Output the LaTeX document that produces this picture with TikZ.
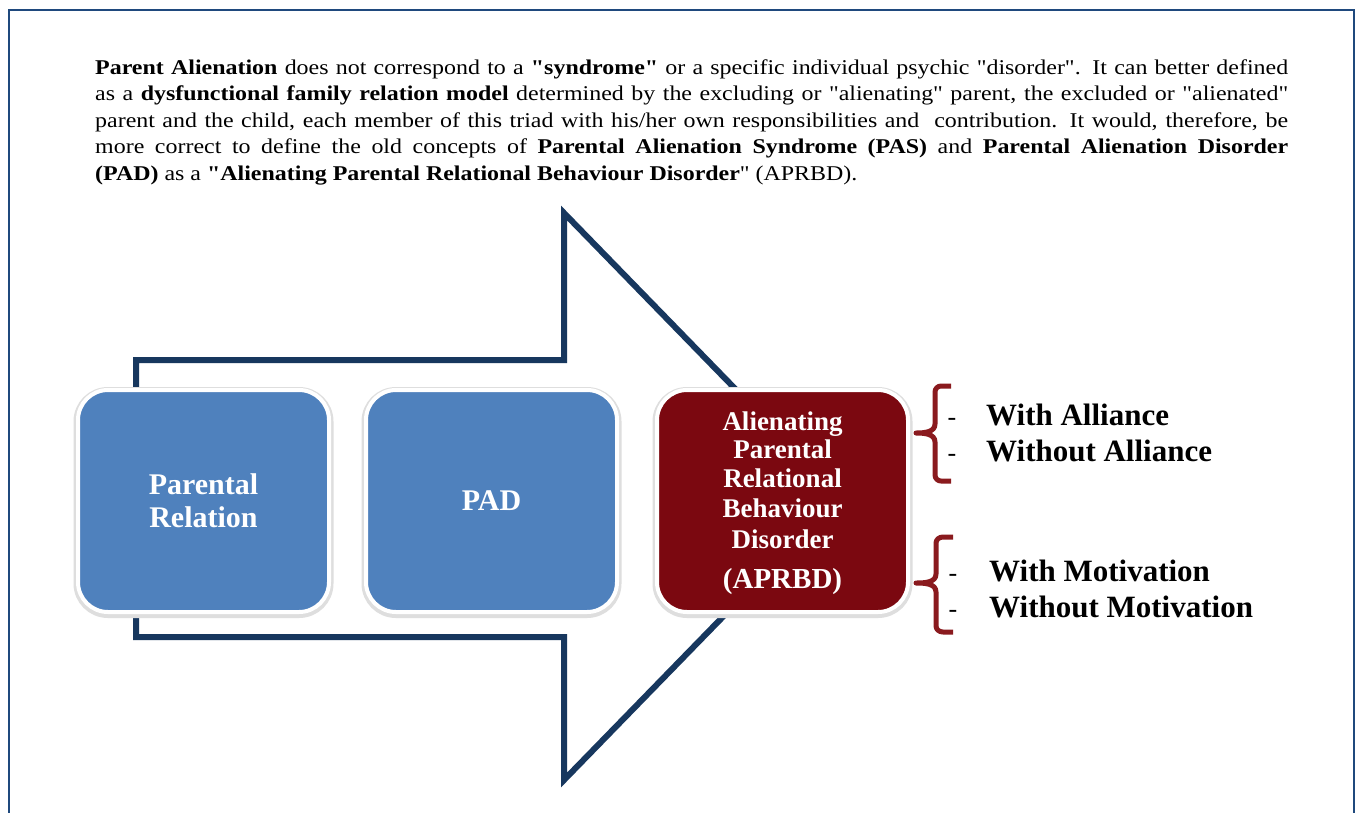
\documentclass[tikz,border=0pt]{standalone}
\usepackage{fontspec}
\usepackage{graphicx}
\setmainfont{Liberation Serif}[Ligatures=TeXOff]
\newcommand\qd{\symbol{34}}
\definecolor{navy}{HTML}{17375E}
\definecolor{framec}{HTML}{1F497D}
\definecolor{boxblue}{HTML}{4F81BD}
\definecolor{boxred}{HTML}{7B0810}
\definecolor{bracered}{HTML}{8A1A1E}
\newcommand\headln[1]{\scalebox{1.14}[1]{\makebox[1046.5pt][s]{#1}}}
\tikzset{
  box/.style={rounded corners=30pt, draw=white, line width=4pt, minimum width=251pt, minimum height=222pt,
    inner sep=0pt, align=center, text=white, font=\fontsize{30}{33}\selectfont\bfseries,
    preaction={draw=black!13, line width=9pt, transform canvas={yshift=-1.5pt}}},
  bracestyle/.style={draw=bracered, line width=5pt, line cap=butt, line join=round},
  headline/.style={anchor=base west, inner sep=0pt, font=\fontsize{21}{26}\selectfont},
  redline/.style={anchor=base, inner sep=0pt, text=white, font=\fontsize{27}{29}\selectfont\bfseries},
  sidetext/.style={anchor=base west, inner sep=0pt, font=\fontsize{31}{34}\selectfont\bfseries},
  dashtext/.style={anchor=base, inner sep=0pt, font=\fontsize{26}{30}\selectfont}
}
\begin{document}
\begin{tikzpicture}[x=1pt,y=-1pt]
\useasboundingbox (0,0) rectangle (1357,812);
\fill[white] (0,0) rectangle (1357,812);
\begin{scope}
\clip (0,0) rectangle (1357,812);
\draw[framec, line width=2pt] (9,10) rectangle (1354,840);
\end{scope}

% header text
\node[headline] (l1) at (95,74) {\headln{\textbf{Parent Alienation} does not correspond to a \textbf{\qd syndrome\qd} or a specific individual psychic \qd disorder\qd. It can better defined}};
\node[headline] (l2) at (95,100.5) {\headln{as a \textbf{dysfunctional family relation model} determined by the excluding or \qd alienating\qd\ parent, the excluded or \qd alienated\qd}};
\node[headline] (l3) at (95,127) {\headln{parent and the child, each member of this triad with his/her own responsibilities and\ \ contribution. It would, therefore, be}};
\node[headline] (l4) at (95,153.5) {\headln{more correct to define the old concepts of \textbf{Parental Alienation Syndrome (PAS)} and \textbf{Parental Alienation Disorder}}};
\node[headline] (l5) at (95,180) {\scalebox{1.14}[1]{\textbf{(PAD)} as a \textbf{\qd Alienating Parental Relational Behaviour Disorder}\qd\ (APRBD).}};

% big arrow outline
\draw[navy, line width=6pt, line join=miter]
  (136,360) -- (564,360) -- (564,213) -- (840,496.5) -- (564,780) -- (564,637) -- (136,637) -- cycle;

% boxes
\node[box, fill=boxblue] (pr) at (203.5,501) {Parental\\Relation};
\node[box, fill=boxblue] (pad) at (491.5,501) {PAD};
\node[box, fill=boxred] (aprbd) at (782.5,501) {};
\node[redline] (a1) at (782.5,430) {Alienating};
\node[redline] (a2) at (782.5,458.5) {Parental};
\node[redline] (a3) at (782.5,487.5) {Relational};
\node[redline] (a4) at (782.5,517) {Behaviour};
\node[redline] (a5) at (782.5,548) {Disorder};
\node[redline, font=\fontsize{29}{32}\selectfont\bfseries] (a6) at (782.5,588) {(APRBD)};

% braces
\draw[bracestyle] (951,386) -- (941,386) to[out=180,in=90] (935,392) -- (935,424)
   to[out=-90,in=0] (916,433) to[out=0,in=90] (935,442) -- (935,475) to[out=-90,in=180] (941,481) -- (951,481);
\draw[bracestyle] (953,537) -- (943,537) to[out=180,in=90] (936,543) -- (936,574)
   to[out=-90,in=0] (916,583) to[out=0,in=90] (936,592) -- (936,626) to[out=-90,in=180] (943,632) -- (953,632);

% side items
\node[dashtext] (d1) at (952,425) {-};
\node[dashtext] (d2) at (952,461) {-};
\node[dashtext] (d3) at (953,581) {-};
\node[dashtext] (d4) at (953,617) {-};
\node[sidetext] (t1) at (986,425) {With Alliance};
\node[sidetext] (t2) at (986,461) {Without Alliance};
\node[sidetext] (t3) at (989,581) {With Motivation};
\node[sidetext] (t4) at (989,617) {Without Motivation};
\end{tikzpicture}
\end{document}
